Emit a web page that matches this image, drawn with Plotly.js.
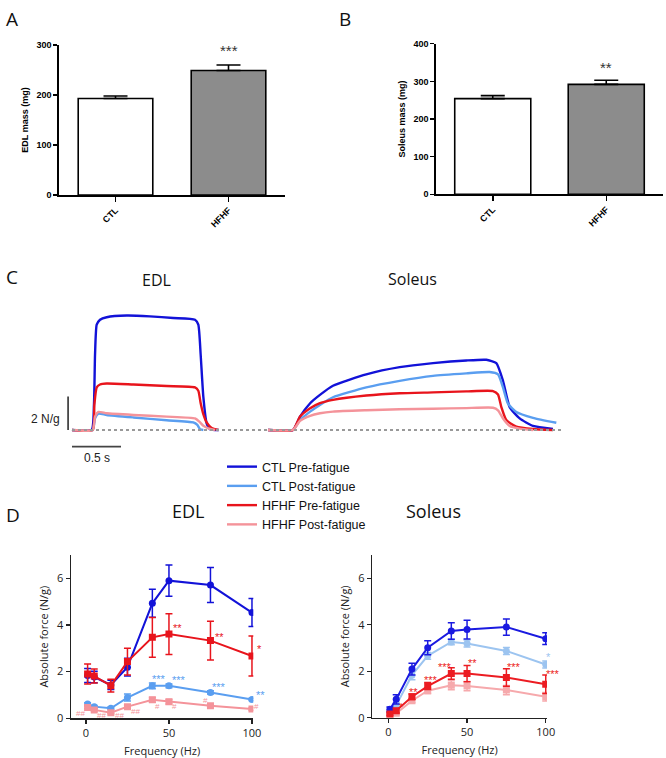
<!DOCTYPE html>
<html><head><meta charset="utf-8">
<script src="https://cdn.plot.ly/plotly-3.0.1.min.js"></script>
<style>html,body{margin:0;padding:0;background:#fff}#g{width:666px;height:758px}</style>
</head><body><div id="g"></div>
<script>
// ---------- Panel A / B : muscle mass ----------
const groups = ['CTL', 'HFHF'];
const edlMass = [193, 249];
const edlMassErr = [5, 11];
const solMass = [254, 292];
const solMassErr = [8, 11];
const edlSig = '***';
const solSig = '**';

// ---------- Panel C : force traces (time s, force N/g) ----------
const tCtlPre = [0,0.20,0.224,0.235,0.252,0.286,0.354,0.558,0.796,1.034,1.255,1.289,1.313,1.340,1.374,1.408,1.50,null,2.00,2.255,2.327,2.43,2.53,2.663,3.003,3.344,3.684,4.024,4.228,4.33,4.398,4.466,4.568,4.704,4.908];
const fCtlPre = [0,0,1.5,4.5,6.3,6.6,6.75,6.85,6.8,6.7,6.6,6.3,4.5,2.0,0.4,0.05,0,null,0,0,0.8,1.6,2.1,2.65,3.33,3.76,4.0,4.16,4.2,4.0,2.94,1.37,0.69,0.24,0.06];
const tCtlPost = [0,0.211,0.235,0.269,0.354,0.626,0.966,1.238,1.279,1.306,1.340,null,2.00,2.255,2.327,2.43,2.53,2.663,3.003,3.344,3.684,4.024,4.262,4.347,4.398,4.449,4.534,4.704,4.942];
const fCtlPost = [0,0,0.7,0.98,0.9,0.75,0.58,0.45,0.3,0.05,0,null,0,0,0.6,1.1,1.5,1.96,2.55,2.94,3.24,3.39,3.47,3.33,2.55,1.57,1.08,0.73,0.43];
const tHfPre = [0,0.211,0.228,0.252,0.286,0.354,0.626,0.966,1.255,1.289,1.313,1.340,1.374,1.425,1.493,null,2.00,2.255,2.327,2.43,2.53,2.663,3.003,3.344,3.684,4.024,4.296,4.347,4.381,4.432,4.534,4.704,4.908];
const fHfPre = [0,0,1.5,2.55,2.72,2.78,2.72,2.63,2.55,2.35,1.6,0.95,0.45,0.12,0,null,0,0,0.8,1.3,1.6,1.8,2.06,2.2,2.25,2.31,2.33,2.12,1.37,0.59,0.2,0.06,0];
const tHfPost = [0,0.211,0.235,0.269,0.354,0.626,0.966,1.255,1.299,1.340,1.391,1.459,null,2.00,2.255,2.327,2.43,2.53,2.663,3.003,3.344,3.684,4.024,4.296,4.347,4.398,4.466,4.568,4.704];
const fHfPost = [0,0,0.8,1.08,1.0,0.9,0.8,0.69,0.5,0.25,0.1,0,null,0,0,0.55,0.85,1.0,1.1,1.18,1.24,1.27,1.31,1.33,1.18,0.69,0.24,0.08,0];
const baseT = [0, 4.99];
const baseF = [0, 0];
const scaleV_T = [-0.04, -0.04], scaleV_F = [0, 2];
const scaleH_T = [0, 0.5], scaleH_F = [-1.0, -1.0];

// ---------- Panel D : force-frequency ----------
const freq = [1, 5, 15, 25, 40, 50, 75, 100];
const edlCtlPre = [1.83, 1.77, 1.43, 2.19, 4.93, 5.9, 5.71, 4.53];
const edlCtlPreErr = [0.3, 0.25, 0.2, 0.38, 0.6, 0.67, 0.75, 0.6];
const edlCtlPost = [0.61, 0.5, 0.43, 0.89, 1.39, 1.39, 1.11, 0.81];
const edlCtlPostErr = [0.06, 0.05, 0.05, 0.15, 0.12, 0.08, 0.07, 0.05];
const edlHfPre = [1.9, 1.81, 1.4, 2.43, 3.47, 3.61, 3.33, 2.67];
const edlHfPreErr = [0.43, 0.3, 0.27, 0.57, 0.85, 0.87, 0.83, 0.86];
const edlHfPost = [0.46, 0.36, 0.24, 0.5, 0.79, 0.71, 0.54, 0.4];
const edlHfPostErr = [0.05, 0.05, 0.05, 0.07, 0.1, 0.1, 0.05, 0.05];

const solCtlPre = [0.36, 0.79, 2.09, 3.01, 3.73, 3.79, 3.9, 3.4];
const solCtlPreErr = [0.1, 0.2, 0.25, 0.3, 0.36, 0.4, 0.35, 0.25];
const solCtlPost = [0.26, 0.54, 1.83, 2.66, 3.26, 3.19, 2.87, 2.29];
const solCtlPostErr = [0.08, 0.1, 0.2, 0.15, 0.12, 0.15, 0.15, 0.15];
const solHfPre = [0.16, 0.3, 0.9, 1.36, 1.9, 1.9, 1.73, 1.44];
const solHfPreErr = [0.05, 0.1, 0.12, 0.15, 0.25, 0.35, 0.38, 0.4];
const solHfPost = [0.07, 0.19, 0.73, 1.16, 1.4, 1.36, 1.19, 0.9];
const solHfPostErr = [0.04, 0.06, 0.08, 0.12, 0.2, 0.2, 0.2, 0.18];

// significance marks [frequency, force, text, series, pixel offset right]
const edlMarks = [
  [50, 3.86, '**', 'hfPre', 9], [75, 3.5, '**', 'hfPre', 9], [100, 2.96, '*', 'hfPre', 8],
  [40, 1.69, '***', 'ctlPost', 7], [50, 1.64, '***', 'ctlPost', 10], [75, 1.33, '***', 'ctlPost', 9], [100, 1.02, '**', 'ctlPost', 9],
  [1, 0.2, '##', 'hfPost', -7], [9.4, 0.13, '##', 'hfPost', 0], [20.4, 0.13, '##', 'hfPost', 0], [25, 0.3, '##', 'hfPost', 8],
  [40, 0.5, '#', 'hfPost', 5], [50, 0.5, '#', 'hfPost', 6], [75, 0.77, '#', 'hfPost', -5], [100, 0.5, '#', 'hfPost', 5]
];
const solMarks = [
  [5, 0.47, '*', 'hfPre', 5], [15, 1.11, '**', 'hfPre', 2], [25, 1.64, '***', 'hfPre', 3], [40, 2.19, '***', 'hfPre', -6],
  [50, 2.36, '**', 'hfPre', 5], [75, 2.19, '***', 'hfPre', 8], [100, 1.9, '***', 'hfPre', 7], [100, 2.6, '*', 'ctlPost', 3]
];

const C = {ctlPre:'#1212d8', ctlPost:'#5a9ef0', hfPre:'#e8141c', hfPost:'#f4939a'};
const CS = {ctlPre:'#1a1ae0', ctlPost:'#9cc4f0', hfPre:'#ec1c22', hfPost:'#f6a9ac'};

const W = 666, H = 758;
const px = v => v / W;
const py = v => 1 - v / H;

const traces = [];
// Panel A
traces.push({type:'bar', x:groups, y:edlMass, xaxis:'x', yaxis:'y', width:0.66,
  marker:{color:['#ffffff','#8c8c8c'], line:{color:'#000', width:1.6}},
  error_y:{type:'data', symmetric:false, array:edlMassErr, arrayminus:[0,0], color:'#000', thickness:1.6, width:12},
  showlegend:false, hoverinfo:'skip'});
// Panel B
traces.push({type:'bar', x:groups, y:solMass, xaxis:'x2', yaxis:'y2', width:0.67,
  marker:{color:['#ffffff','#8c8c8c'], line:{color:'#000', width:1.6}},
  error_y:{type:'data', symmetric:false, array:solMassErr, arrayminus:[0,0], color:'#000', thickness:1.6, width:12},
  showlegend:false, hoverinfo:'skip'});
// Panel C
const cSets = [
  ['CTL Pre-fatigue', tCtlPre, fCtlPre, 'ctlPre'],
  ['CTL Post-fatigue', tCtlPost, fCtlPost, 'ctlPost'],
  ['HFHF Pre-fatigue', tHfPre, fHfPre, 'hfPre'],
  ['HFHF Post-fatigue', tHfPost, fHfPost, 'hfPost']
];
cSets.forEach(s => traces.push({type:'scatter', mode:'lines', name:s[0], x:s[1], y:s[2], xaxis:'x3', yaxis:'y3',
  line:{color:C[s[3]], width:2.4, shape:'spline', smoothing:0.5}, connectgaps:false, showlegend:true}));
traces.push({type:'scatter', mode:'lines', x:baseT, y:baseF, xaxis:'x3', yaxis:'y3',
  line:{color:'#999', width:2, dash:'dot'}, showlegend:false});
traces.push({type:'scatter', mode:'lines', x:scaleV_T, y:scaleV_F, xaxis:'x3', yaxis:'y3',
  line:{color:'#222', width:1.5}, showlegend:false});
traces.push({type:'scatter', mode:'lines', x:scaleH_T, y:scaleH_F, xaxis:'x3', yaxis:'y3',
  line:{color:'#444', width:1.8}, showlegend:false});

// Panel D
function ff(y, err, sym, xa, ya, col) {
  return {type:'scatter', mode:'lines+markers', x:freq, y:y, xaxis:xa, yaxis:ya,
    line:{color:col, width:2}, marker:{color:col, size:7, symbol:sym},
    error_y:{type:'data', array:err, color:col, thickness:1.5, width:3.5}, showlegend:false};
}
traces.push(ff(edlCtlPost, edlCtlPostErr, 'circle', 'x4', 'y4', C.ctlPost));
traces.push(ff(edlHfPost, edlHfPostErr, 'square', 'x4', 'y4', C.hfPost));
traces.push(ff(edlCtlPre, edlCtlPreErr, 'circle', 'x4', 'y4', C.ctlPre));
traces.push(ff(edlHfPre, edlHfPreErr, 'square', 'x4', 'y4', C.hfPre));
traces.push(ff(solCtlPost, solCtlPostErr, 'circle', 'x5', 'y5', CS.ctlPost));
traces.push(ff(solHfPost, solHfPostErr, 'square', 'x5', 'y5', CS.hfPost));
traces.push(ff(solCtlPre, solCtlPreErr, 'circle', 'x5', 'y5', CS.ctlPre));
traces.push(ff(solHfPre, solHfPreErr, 'square', 'x5', 'y5', CS.hfPre));

const arialB = {family:'Liberation Sans, Arial, sans-serif', size:9, color:'#000', weight:'bold'};
const barX = {type:'category', range:[-0.5,1.5], showline:true, linecolor:'#000', linewidth:1.6,
  ticks:'outside', ticklen:5, tickwidth:1.5, tickcolor:'#000', tickangle:-45, tickfont:arialB, zeroline:false, fixedrange:true};
const barY = {showline:true, linecolor:'#000', linewidth:1.6, ticks:'outside', ticklen:4, tickwidth:1.5, tickcolor:'#000',
  tickfont:arialB, showgrid:false, zeroline:false};
const osans = 'Open Sans, sans-serif';
const dX = {showline:true, linecolor:'#222', linewidth:1.5, ticks:'outside', ticklen:4, tickwidth:1.2, tickcolor:'#222',
  tickvals:[0,50,100], tickfont:{family:osans, size:11, color:'#222'}, showgrid:false, zeroline:false,
  title:{text:'Frequency (Hz)', font:{family:osans, size:11, color:'#222'}, standoff:8}};
const dY = {showline:true, linecolor:'#222', linewidth:1.5, ticks:'outside', ticklen:4, tickwidth:1.2, tickcolor:'#222',
  tickvals:[0,2,4,6], tickfont:{family:osans, size:11, color:'#222'}, showgrid:false, zeroline:false, range:[0,7],
  title:{text:'Absolute force (N/g)', font:{family:osans, size:11, color:'#222'}, standoff:6}};

const annotations = [
  {text:'A', x:px(4), y:py(4), xanchor:'left', yanchor:'top'},
  {text:'B', x:px(337), y:py(4), xanchor:'left', yanchor:'top'},
  {text:'C', x:px(4), y:py(262), xanchor:'left', yanchor:'top'},
  {text:'D', x:px(4), y:py(500), xanchor:'left', yanchor:'top'}
].map(a => Object.assign(a, {xref:'paper', yref:'paper', showarrow:false, font:{family:osans, size:19, color:'#111'}}));

annotations.push({xref:'x', yref:'y', x:'HFHF', y:290, text:edlSig, showarrow:false, yanchor:'middle', font:{family:'Liberation Sans, Arial', size:15, color:'#333'}});
annotations.push({xref:'x2', yref:'y2', x:'HFHF', y:338, text:solSig, showarrow:false, yanchor:'middle', font:{family:'Liberation Sans, Arial', size:15, color:'#333'}});
annotations.push({xref:'paper', yref:'paper', x:px(140), y:py(280), text:'EDL', showarrow:false, font:{family:osans, size:16, color:'#111'}});
annotations.push({xref:'paper', yref:'paper', x:px(412), y:py(279), text:'Soleus', showarrow:false, font:{family:osans, size:16, color:'#111'}});
annotations.push({xref:'x3', yref:'y3', x:-0.04, y:0.65, text:'2 N/g', xanchor:'right', xshift:-6, showarrow:false, font:{family:'Liberation Sans, Arial', size:12, color:'#222'}});
annotations.push({xref:'x3', yref:'y3', x:0.25, y:-1.0, text:'0.5 s', yanchor:'top', yshift:-2, showarrow:false, font:{family:'Liberation Sans, Arial', size:12, color:'#222'}});
annotations.push({xref:'paper', yref:'paper', x:px(170), y:py(525), text:'EDL', showarrow:false, font:{family:osans, size:18, color:'#111'}});
annotations.push({xref:'paper', yref:'paper', x:px(463), y:py(525), text:'Soleus', showarrow:false, font:{family:osans, size:18, color:'#111'}});
edlMarks.forEach(m => annotations.push({xref:'x4', yref:'y4', x:m[0], y:m[1], text:m[2], showarrow:false, xshift:m[4],
  font:{family:'Liberation Sans, Arial', size:m[2].indexOf('#')>=0?8:11, color:C[m[3]]}}));
solMarks.forEach(m => annotations.push({xref:'x5', yref:'y5', x:m[0], y:m[1], text:m[2], showarrow:false, xshift:m[4],
  font:{family:'Liberation Sans, Arial', size:11, color:CS[m[3]]}}));

const layout = {
  width:W, height:H, margin:{l:0, r:0, t:0, b:0}, paper_bgcolor:'#fff', plot_bgcolor:'rgba(0,0,0,0)',
  font:{family:osans},
  xaxis: Object.assign({}, barX, {domain:[px(59), px(285)], anchor:'y'}),
  yaxis: Object.assign({}, barY, {domain:[py(195), py(45)], range:[0,300], tickvals:[0,100,200,300], anchor:'x',
    title:{text:'EDL mass (mg)', font:arialB, standoff:6}}),
  xaxis2: Object.assign({}, barX, {domain:[px(436), px(663)], anchor:'y2'}),
  yaxis2: Object.assign({}, barY, {domain:[py(194.3), py(43.7)], range:[0,400], tickvals:[0,100,200,300,400], anchor:'x2',
    title:{text:'Soleus mass (mg)', font:arialB, standoff:6}}),
  xaxis3: {domain:[px(23), px(562)], range:[-0.5, 5.0], visible:false, anchor:'y3'},
  yaxis3: {domain:[py(456.7), py(300)], range:[-1.6, 7.78], visible:false, anchor:'x3'},
  xaxis4: Object.assign({}, dX, {domain:[px(71), px(253.3)], range:[-9, 100.8], anchor:'y4'}),
  yaxis4: Object.assign({}, dY, {domain:[py(718.3), py(555)], anchor:'x4'}),
  xaxis5: Object.assign({}, dX, {domain:[px(372.3), px(547)], range:[-10.2, 100.8], anchor:'y5'}),
  yaxis5: Object.assign({}, dY, {domain:[py(717.7), py(555)], anchor:'x5'}),
  showlegend:true,
  legend:{x:px(222), y:py(452), xanchor:'left', yanchor:'top', bgcolor:'rgba(0,0,0,0)',
    font:{family:'Liberation Sans, Arial', size:12.5, color:'#111'}, tracegroupgap:0, itemwidth:30},
  annotations: annotations
};
Plotly.newPlot('g', traces, layout, {staticPlot:true, displayModeBar:false});
</script></body></html>
